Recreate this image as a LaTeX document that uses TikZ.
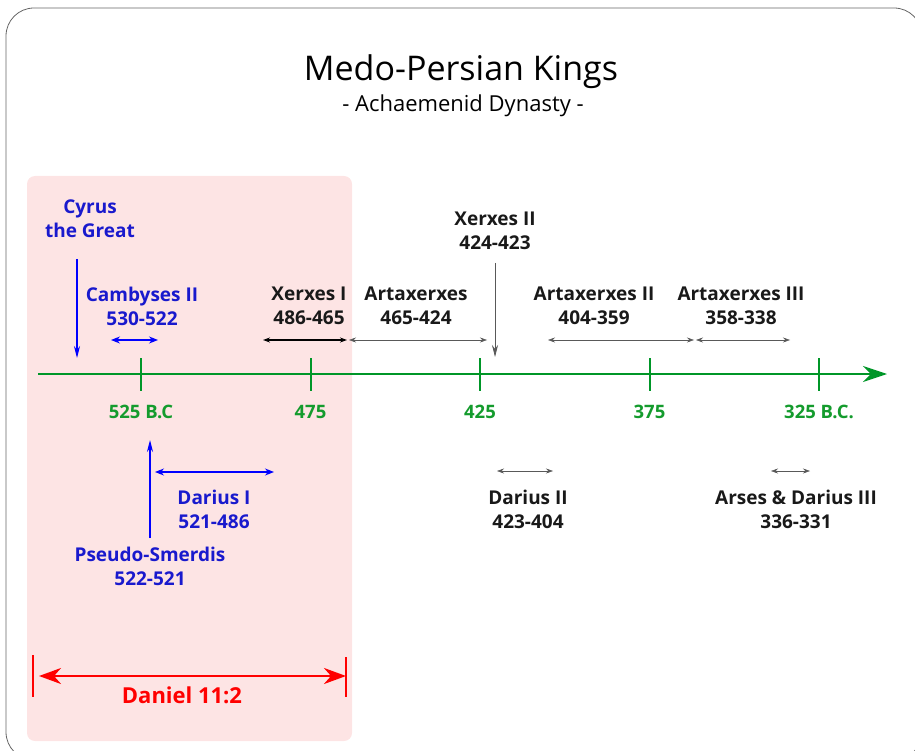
\documentclass[tikz,border=0pt]{standalone}
\usepackage{fontspec}
\setmainfont{Open Sans}
\usetikzlibrary{arrows.meta}

\definecolor{kingblue}{RGB}{25,25,205}
\definecolor{arrowblue}{RGB}{0,0,255}
\definecolor{axisgreen}{RGB}{0,150,40}
\definecolor{textgreen}{RGB}{20,155,45}
\definecolor{dangerred}{RGB}{255,0,0}
\definecolor{boxpink}{RGB}{253,228,228}

\tikzset{
  king/.style={font=\fontsize{19}{24}\selectfont\bfseries, align=center, inner sep=0pt, text=black!90},
  blueking/.style={king, text=kingblue},
  yearlbl/.style={font=\fontsize{18.5}{22}\selectfont\bfseries, text=textgreen, inner sep=0pt},
  span/.style={{Stealth[length=7pt,width=5pt]}-{Stealth[length=7pt,width=5pt]}, draw=black!65, line width=0.6pt},
  bluespan/.style={{Stealth[length=9pt,width=7pt]}-{Stealth[length=9pt,width=7pt]}, draw=arrowblue, line width=1.2pt},
  pointer/.style={-{Stealth[length=12pt,width=6pt]}, line width=0.7pt},
}

\begin{document}
\begin{tikzpicture}[x=1pt, y=-1pt]

  \useasboundingbox (0,0) rectangle (915,751);
  \begin{scope}
    \clip (0,0) rectangle (915,751);
    \draw[black!60, line width=0.8pt, rounded corners=28pt] (6,8) rectangle (922,760);
  \end{scope}

  % Daniel 11:2 period
  \fill[boxpink, rounded corners=8pt] (27,176) rectangle (352,741);

  \node (title) at (461,72) {\fontsize{34}{40}\selectfont Medo-Persian Kings};
  \node (subtitle) at (463,106) {\fontsize{22}{26}\selectfont - Achaemenid Dynasty -};

  % time axis
  \coordinate (axisL) at (38,374);
  \coordinate (axisR) at (887,374);
  \draw[axisgreen, line width=2pt, -{Stealth[length=24pt,width=16pt]}] (axisL) -- (axisR);
  \foreach \yr/\txt in {525/525 B.C, 475/475, 425/425, 375/375, 325/325 B.C.}{
    \pgfmathsetmacro\X{141+(525-\yr)*3.39}
    \draw[axisgreen, line width=2pt] (\X,358) -- (\X,391);
    \node[yearlbl] (yr\yr) at (\X,412) {\txt};
  }

  % kings above the axis
  \node[blueking] (cyrus) at (90,219) {Cyrus\\the Great};
  \coordinate (cyrusA) at (77,259);
  \coordinate (cyrusB) at (77,358);
  \draw[pointer, arrowblue, line width=1.2pt] (cyrusA) -- (cyrusB);

  \node[blueking] (camb) at (142,306) {Cambyses II\\530-522};
  \coordinate (cambL) at (111,340);
  \coordinate (cambR) at (158,340);
  \draw[bluespan] (cambL) -- (cambR);

  \node[king] (xerx1) at (309,306) {Xerxes I\\486-465};
  \coordinate (xerx1L) at (263,340);
  \coordinate (xerx1R) at (347,340);
  \draw[span, draw=black, line width=1.3pt] (xerx1L) -- (xerx1R);

  \node[king] (art1) at (416,306) {Artaxerxes\\465-424};
  \coordinate (art1L) at (349,340);
  \coordinate (art1R) at (487,340);
  \draw[span] (art1L) -- (art1R);

  \node[king] (xerx2) at (495,231) {Xerxes II\\424-423};
  \coordinate (xerx2A) at (495,263);
  \coordinate (xerx2B) at (495,357);
  \draw[pointer, black!65] (xerx2A) -- (xerx2B);

  \node[king] (art2) at (594,306) {Artaxerxes II\\404-359};
  \coordinate (art2L) at (548,340);
  \coordinate (art2R) at (694,340);
  \draw[span] (art2L) -- (art2R);

  \node[king] (art3) at (741,306) {Artaxerxes III\\358-338};
  \coordinate (art3L) at (696,340);
  \coordinate (art3R) at (790,340);
  \draw[span] (art3L) -- (art3R);

  % kings below the axis
  \node[blueking] (dar1) at (214,509) {Darius I\\521-486};
  \coordinate (dar1L) at (155,472);
  \coordinate (dar1R) at (274,472);
  \draw[bluespan] (dar1L) -- (dar1R);

  \node[blueking] (smerd) at (150,566) {Pseudo-Smerdis\\522-521};
  \coordinate (smerdA) at (150,538);
  \coordinate (smerdB) at (150,440);
  \draw[pointer, arrowblue, line width=1.2pt] (smerdA) -- (smerdB);

  \node[king] (dar2) at (528,509) {Darius II\\423-404};
  \coordinate (dar2L) at (497,471);
  \coordinate (dar2R) at (553,471);
  \draw[span] (dar2L) -- (dar2R);

  \node[king] (arses) at (796,509) {Arses \& Darius III\\336-331};
  \coordinate (arsesL) at (771,471);
  \coordinate (arsesR) at (810,471);
  \draw[span] (arsesL) -- (arsesR);

  % Daniel 11:2
  \draw[dangerred, line width=1.5pt] (33,655) -- (33,697);
  \draw[dangerred, line width=1.5pt] (346,657) -- (346,697);
  \coordinate (danL) at (39,676);
  \coordinate (danR) at (346,676);
  \draw[dangerred, line width=2.5pt, {Stealth[length=22pt,width=16pt,inset=7pt]}-{Stealth[length=22pt,width=16pt,inset=7pt]}] (danL) -- (danR);
  \node[font=\fontsize{22}{24}\selectfont\bfseries, text=dangerred] (daniel) at (182,695) {Daniel 11:2};

\end{tikzpicture}
\end{document}
